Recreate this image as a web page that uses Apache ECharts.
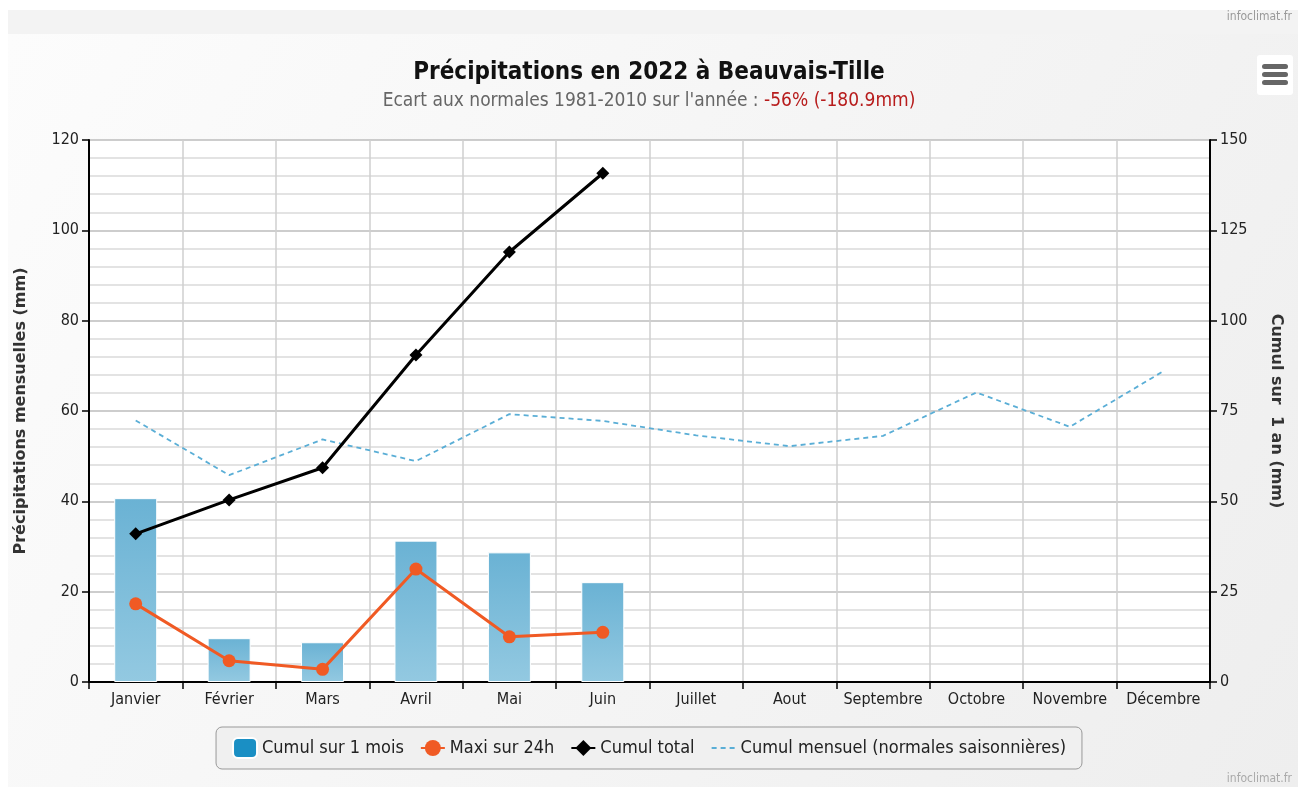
<!DOCTYPE html>
<html lang="fr">
<head>
    <meta charset="UTF-8">
    <title>Précipitations en 2022 à Beauvais-Tille</title>
    <script src="https://cdn.jsdelivr.net/npm/echarts@6/dist/echarts.min.js"></script>
    <style>
        html, body { margin: 0; padding: 0; background: #fff; }
        #chart { width: 1298px; height: 787px; }
    </style>
</head>
<body>
<div id="chart"></div>
<script type="text/javascript">
    // données
    var mois = ['Janvier', 'Février', 'Mars', 'Avril', 'Mai', 'Juin', 'Juillet', 'Aout',
        'Septembre', 'Octobre', 'Novembre', 'Décembre'];
    var cumulMois = [40.7, 9.7, 8.8, 31.3, 28.7, 22.1];
    var maxi24h = [17.3, 4.7, 2.8, 25.0, 10.0, 11.0];
    var cumulTotal = [41.0, 50.4, 59.3, 90.5, 119.0, 140.8];
    var normales = [57.9, 45.8, 53.7, 48.9, 59.3, 57.8, 54.6, 52.2, 54.5, 64.1, 56.5, 68.8];

    var FONT = '"DejaVu Sans Condensed", "DejaVu Sans", sans-serif';
    var FONT_WIDE = '"DejaVu Sans", sans-serif';

    var chart = echarts.init(document.getElementById('chart'));
    chart.setOption({
        backgroundColor: '#fff',
        animation: false,
        textStyle: {fontFamily: FONT},
        graphic: [
            {type: 'rect', silent: true, z: -10, shape: {x: 8, y: 10, width: 1290, height: 24},
                style: {fill: '#f3f3f3'}},
            {type: 'rect', silent: true, z: -10, shape: {x: 8, y: 34, width: 1290, height: 753},
                style: {fill: new echarts.graphic.LinearGradient(0, 0, 1, 1, [
                    {offset: 0, color: '#fcfcfc'}, {offset: 1, color: '#eeeeee'}])}},
            {type: 'text', silent: true, right: 6, top: 11,
                style: {text: 'infoclimat.fr', fill: '#999', font: '12px ' + FONT}},
            {type: 'text', silent: true, right: 6, top: 773,
                style: {text: 'infoclimat.fr', fill: '#aaa', font: '12px ' + FONT}},
            {type: 'group', left: 1257, top: 55, children: [
                {type: 'rect', shape: {x: 0, y: 0, width: 36, height: 40, r: 3}, style: {fill: '#fff'}},
                {type: 'rect', shape: {x: 5, y: 9, width: 26, height: 5, r: 2.5}, style: {fill: '#666'}},
                {type: 'rect', shape: {x: 5, y: 17, width: 26, height: 5, r: 2.5}, style: {fill: '#666'}},
                {type: 'rect', shape: {x: 5, y: 25, width: 26, height: 5, r: 2.5}, style: {fill: '#666'}}
            ]}
        ],
        title: {
            text: 'Précipitations en 2022 à Beauvais-Tille',
            subtext: "{g|Ecart aux normales 1981-2010 sur l'année : }{r|-56% (-180.9mm)}",
            left: 'center',
            top: 56,
            itemGap: 7,
            textStyle: {fontFamily: FONT, fontSize: 24, fontWeight: 'bold', color: '#111'},
            subtextStyle: {
                fontFamily: FONT, fontSize: 19,
                rich: {
                    g: {fontFamily: FONT, fontSize: 19, color: '#666'},
                    r: {fontFamily: FONT, fontSize: 19, color: '#b71c1c'}
                }
            }
        },
        legend: {
            bottom: 18,
            left: 'center',
            padding: [10, 16, 10, 16],
            itemGap: 16,
            itemWidth: 24,
            itemHeight: 20,
            borderColor: '#999',
            borderWidth: 1,
            borderRadius: 6,
            backgroundColor: '#f0f0f0',
            textStyle: {fontFamily: FONT, fontSize: 18, color: '#222'},
            data: [
                {name: 'Cumul sur 1 mois', icon: 'roundRect', itemStyle: {color: '#1a8fc4'}},
                {name: 'Maxi sur 24h'},
                {name: 'Cumul total'},
                {name: 'Cumul mensuel (normales saisonnières)', itemStyle: {opacity: 0}}
            ]
        },
        grid: {
            left: 89, right: 88, top: 140, bottom: 105,
            show: true, backgroundColor: '#fff', borderColor: '#ccc', borderWidth: 0
        },
        xAxis: {
            type: 'category',
            data: mois,
            boundaryGap: true,
            axisLine: {lineStyle: {color: '#000', width: 2}},
            axisTick: {show: true, length: 7, lineStyle: {color: '#000', width: 1.5}},
            axisLabel: {color: '#222', fontSize: 16, margin: 10, interval: 0},
            splitLine: {show: true, lineStyle: {color: '#cfcfcf', width: 1.5}}
        },
        yAxis: [
            {
                type: 'value',
                min: 0, max: 120, interval: 20,
                name: 'Précipitations mensuelles (mm)',
                nameLocation: 'middle',
                nameRotate: 90,
                nameGap: 60,
                nameTextStyle: {fontFamily: FONT_WIDE, fontSize: 16, fontWeight: 'bold', color: '#333'},
                axisLine: {show: true, lineStyle: {color: '#000', width: 2}},
                axisTick: {show: true, length: 7, lineStyle: {color: '#000', width: 1.5}},
                axisLabel: {color: '#222', fontSize: 16, margin: 10},
                splitLine: {show: true, lineStyle: {color: '#bdbdbd', width: 1.5}},
                minorTick: {show: false, splitNumber: 5},
                minorSplitLine: {show: true, lineStyle: {color: '#e3e3e3', width: 2}}
            },
            {
                type: 'value',
                min: 0, max: 150, interval: 25,
                position: 'right',
                name: 'Cumul sur  1 an (mm)',
                nameLocation: 'middle',
                nameRotate: -90,
                nameGap: 58,
                nameTextStyle: {fontFamily: FONT_WIDE, fontSize: 16, fontWeight: 'bold', color: '#333'},
                axisLine: {show: true, lineStyle: {color: '#000', width: 2}},
                axisTick: {show: true, length: 7, lineStyle: {color: '#000', width: 1.5}},
                axisLabel: {color: '#222', fontSize: 16, margin: 10},
                splitLine: {show: false}
            }
        ],
        series: [
            {
                name: 'Cumul sur 1 mois',
                type: 'bar',
                yAxisIndex: 0,
                data: cumulMois,
                barWidth: 43,
                z: 2,
                itemStyle: {
                    color: new echarts.graphic.LinearGradient(0, 0, 0, 1, [
                        {offset: 0, color: '#6ab2d4'}, {offset: 1, color: '#93c9e1'}]),
                    borderColor: '#fff',
                    borderWidth: 1
                }
            },
            {
                name: 'Cumul mensuel (normales saisonnières)',
                type: 'line',
                yAxisIndex: 0,
                data: normales,
                symbol: 'none',
                z: 3,
                itemStyle: {color: '#66b6dc'},
                lineStyle: {color: '#5aaed6', width: 1.8, type: [5, 4]}
            },
            {
                name: 'Maxi sur 24h',
                type: 'line',
                yAxisIndex: 0,
                data: maxi24h,
                symbol: 'circle',
                symbolSize: 13,
                z: 4,
                itemStyle: {color: '#f05a24'},
                lineStyle: {color: '#f05a24', width: 3}
            },
            {
                name: 'Cumul total',
                type: 'line',
                yAxisIndex: 1,
                data: cumulTotal,
                symbol: 'diamond',
                symbolSize: 13,
                z: 5,
                itemStyle: {color: '#000'},
                lineStyle: {color: '#000', width: 3}
            }
        ]
    });
</script>
</body>
</html>
